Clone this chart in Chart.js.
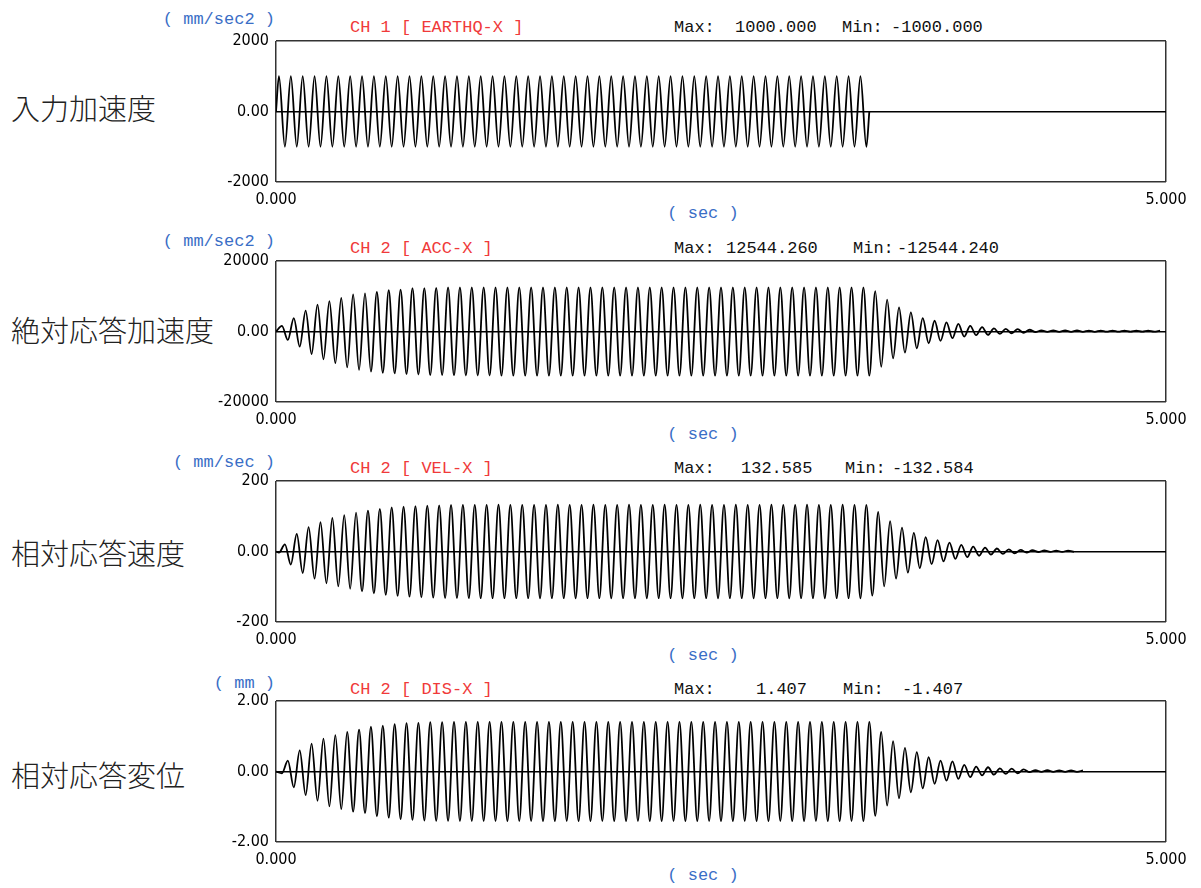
<!DOCTYPE html>
<html><head><meta charset="utf-8">
<script src="https://cdn.jsdelivr.net/npm/chart.js@4.4.1/dist/chart.umd.min.js"></script>
<style>
html,body{margin:0;padding:0;background:#fff}
body{width:1201px;height:888px;position:relative;overflow:hidden;font-family:"Liberation Mono","DejaVu Sans Mono",monospace}
.t{position:absolute;white-space:pre;line-height:1}
.jp{font-family:"Noto Sans CJK JP",sans-serif;font-size:29px;font-weight:300;color:#222;left:11px}
.unit{color:#3a6ec6;font-size:17px}
.ttl{color:#f03a3a;font-size:17px;left:350px}
.mm{color:#111;font-size:17px}
canvas{position:absolute}
</style></head><body>
<script>
// ---------------- data ----------------
const HALF_PERIOD = 1 / 30;           // half cycle of the 15 Hz waveform (sec)
const timeTickLabels = ["0.000", "5.000"];
const timeRange = [0, 5];

// CH1 EARTHQ-X : input acceleration peaks (mm/sec2), first peak at 1/60 s
const inputStart = 1 / 60;
const inputPeaks = [
  1000,-1000,1000,-1000,1000,-1000,1000,-1000,1000,-1000,
  1000,-1000,1000,-1000,1000,-1000,1000,-1000,1000,-1000,
  1000,-1000,1000,-1000,1000,-1000,1000,-1000,1000,-1000,
  1000,-1000,1000,-1000,1000,-1000,1000,-1000,1000,-1000,
  1000,-1000,1000,-1000,1000,-1000,1000,-1000,1000,-1000,
  1000,-1000,1000,-1000,1000,-1000,1000,-1000,1000,-1000,
  1000,-1000,1000,-1000,1000,-1000,1000,-1000,1000,-1000,
  1000,-1000,1000,-1000,1000,-1000,1000,-1000,1000,-1000,
  1000,-1000,1000,-1000,1000,-1000,1000,-1000,1000,-1000,
  1000,-1000,1000,-1000,1000,-1000,1000,-1000,1000,-1000
];
const inputTicks = ["-2000", "0.00", "2000"];

// CH2 ACC-X : absolute response acceleration peaks (mm/sec2), first peak at 1/30 s
const accStart = 1 / 30;
const accPeaks = [
  1600,-2400,3800,-4300,5900,-6400,7600,-7900,8600,-9000,
  9500,-10200,10500,-10900,10800,-11400,11200,-11700,11700,-11900,
  11900,-12100,12300,-12200,12300,-12400,12400,-12400,12500,-12450,
  12500,-12480,12520,-12500,12530,-12510,12520,-12520,12540,-12530,
  12530,-12520,12544,-12530,12530,-12540,12540,-12530,12540,-12544,
  12540,-12530,12544,-12540,12530,-12540,12544,-12540,12540,-12544,
  12540,-12540,12544,-12540,12540,-12544,12540,-12540,12544,-12540,
  12540,-12544,12540,-12540,12544,-12540,12540,-12544,12540,-12540,
  12544,-12540,12540,-12544,12540,-12540,12544,-12540,12540,-12544,
  12540,-12540,12544,-12540,12540,-12544,12540,-12540,12544,-12544,
  11430,-10000,9050,-7620,6860,-6000,5430,-4760,3800,-3330,
  3050,-2670,2570,-1900,2190,-1430,1620,-1050,1240,-950,
  860,-670,760,-500,670,-400,500,-150,300,-100,
  300,-100,280,-100,280,-80,260,-80,260,-60,
  250,-60,250,-50,240,-50,240,-40,230
];
const accTicks = ["-20000", "0.00", "20000"];

// CH2 VEL-X : relative response velocity peaks (mm/sec), first peak at 1/60 s
const velStart = 1 / 60;
const velPeaks = [
  -3,20,-37,50,-61,69,-77,83,-90,95,
  -99,103,-106,110,-113,116,-119,121,-123,125,
  -126,127,-128,129,-130,130,-131,131,-132,132,
  -132.3,132.4,-132.4,132.5,-132.5,132.5,-132.5,132.58,-132.5,132.5,
  -132.5,132.55,-132.5,132.5,-132.58,132.5,-132.5,132.58,-132.5,132.5,
  -132.58,132.5,-132.5,132.58,-132.5,132.5,-132.58,132.5,-132.5,132.58,
  -132.5,132.5,-132.58,132.5,-132.5,132.58,-132.5,132.5,-132.58,132.5,
  -132.5,132.58,-132.5,132.5,-132.58,132.5,-132.5,132.58,-132.5,132.5,
  -132.58,132.5,-132.5,132.58,-132.5,132.5,-132.58,132.5,-132.5,132.58,
  -132.5,132.5,-132.58,132.5,-132.5,132.58,-132.5,132.5,-132.58,132.5,
  -125,112,-99,86,-77,68,-60,53,-47,41,
  -36,32,-28,25,-21,19,-16,14,-12,11,
  -9,8.5,-7,6,-5,4.5,-3,3.5,-1.5,3,
  -1,2.5,-1,2.5,-1
];
const velTicks = ["-200", "0.00", "200"];

// CH2 DIS-X : relative response displacement peaks (mm), first peak at 1/30 s
const disStart = 1 / 30;
const disPeaks = [
  -0.05,0.31,-0.45,0.60,-0.67,0.79,-0.83,0.93,-0.99,1.03,
  -1.07,1.12,-1.14,1.19,-1.18,1.27,-1.27,1.30,-1.31,1.34,
  -1.35,1.37,-1.37,1.38,-1.39,1.40,-1.40,1.40,-1.40,1.405,
  -1.404,1.405,-1.405,1.406,-1.405,1.406,-1.406,1.406,-1.407,1.406,
  -1.406,1.407,-1.406,1.407,-1.407,1.406,-1.407,1.407,-1.406,1.407,
  -1.407,1.406,-1.407,1.407,-1.406,1.407,-1.407,1.406,-1.407,1.407,
  -1.406,1.407,-1.407,1.406,-1.407,1.407,-1.406,1.407,-1.407,1.406,
  -1.407,1.407,-1.406,1.407,-1.407,1.406,-1.407,1.407,-1.406,1.407,
  -1.407,1.406,-1.407,1.407,-1.406,1.407,-1.407,1.406,-1.407,1.407,
  -1.406,1.407,-1.407,1.406,-1.407,1.407,-1.406,1.407,-1.407,1.407,
  -1.26,1.12,-0.97,0.86,-0.76,0.67,-0.59,0.55,-0.48,0.41,
  -0.35,0.31,-0.26,0.29,-0.21,0.19,-0.16,0.14,-0.11,0.12,
  -0.09,0.09,-0.07,0.08,-0.05,0.06,-0.02,0.04,-0.01,0.04,
  -0.01,0.03,-0.01,0.03,-0.01,0.03
];
const disTicks = ["-2.00", "0.00", "2.00"];

// ---------------- layout / text ----------------
const panelTops = [41, 261, 481, 701];
const PLOT_LEFT = 276, PLOT_RIGHT = 1166, PLOT_H = 141;
const YW = 62, PADT = 18, PADR = 32, XH = 36;

const texts = [
  // panel 1
  ["jp", "入力加速度", 11, 93],
  ["unit r", "( mm/sec2 )", 275, 11],
  ["ttl", "CH 1 [ EARTHQ-X ]", 350, 19],
  ["mm", "Max:", 674, 19], ["mm", "1000.000", 735, 19],
  ["mm", "Min:", 842, 19], ["mm", "-1000.000", 891, 19],
  ["unit c", "( sec )", 703, 205],
  // panel 2
  ["jp", "絶対応答加速度", 11, 315],
  ["unit r", "( mm/sec2 )", 275, 233],
  ["ttl", "CH 2 [ ACC-X ]", 350, 240],
  ["mm", "Max:", 674, 240], ["mm", "12544.260", 726, 240],
  ["mm", "Min:", 853, 240], ["mm", "-12544.240", 897, 240],
  ["unit c", "( sec )", 703, 426],
  // panel 3
  ["jp", "相対応答速度", 11, 538],
  ["unit r", "( mm/sec )", 275, 454],
  ["ttl", "CH 2 [ VEL-X ]", 350, 460],
  ["mm", "Max:", 674, 460], ["mm", "132.585", 741, 460],
  ["mm", "Min:", 845, 460], ["mm", "-132.584", 892, 460],
  ["unit c", "( sec )", 703, 647],
  // panel 4
  ["jp", "相対応答変位", 11, 760],
  ["unit r", "( mm )", 275, 675],
  ["ttl", "CH 2 [ DIS-X ]", 350, 681],
  ["mm", "Max:", 674, 681], ["mm", "1.407", 756, 681],
  ["mm", "Min:", 843, 681], ["mm", "-1.407", 902, 681],
  ["unit c", "( sec )", 703, 867]
];
for (const [cls, str, x, y] of texts) {
  const d = document.createElement("div");
  const parts = cls.split(" ");
  d.className = "t " + parts[0];
  d.textContent = str;
  d.style.top = y + "px";
  if (parts[1] === "r") { d.style.right = (1201 - x) + "px"; }
  else if (parts[1] === "c") { d.style.left = x + "px"; d.style.transform = "translateX(-50%)"; }
  else { d.style.left = x + "px"; }
  document.body.appendChild(d);
}

function buildPoints(start, peaks, endZero) {
  const pts = [{ x: 0, y: 0 }];
  peaks.forEach((v, i) => pts.push({ x: start + i * HALF_PERIOD, y: v }));
  if (endZero) pts.push({ x: start + (peaks.length - 0.5) * HALF_PERIOD, y: 0 });
  return pts;
}

const tickFont = { family: "'DejaVu Sans Condensed','DejaVu Sans',sans-serif", size: 16 };

function makePanel(idx, points, yMax, yLabels) {
  const c = document.createElement("canvas");
  const w = PLOT_RIGHT - (PLOT_LEFT - YW) + PADR;
  const h = PADT + PLOT_H + XH;
  c.width = w; c.height = h;
  c.style.left = (PLOT_LEFT - YW) + "px";
  c.style.top = (panelTops[idx] - PADT) + "px";
  c.style.width = w + "px"; c.style.height = h + "px";
  document.body.appendChild(c);
  const yVals = [-yMax, 0, yMax];
  new Chart(c, {
    type: "line",
    data: { datasets: [{
      data: points, borderColor: "#000", borderWidth: 1.8,
      pointRadius: 0, cubicInterpolationMode: "monotone", fill: false
    }] },
    options: {
      responsive: false, animation: false, devicePixelRatio: 1,
      events: [],
      layout: { autoPadding: false, padding: { top: PADT, right: PADR, left: 0, bottom: 0 } },
      plugins: { legend: { display: false }, tooltip: { enabled: false } },
      scales: {
        x: {
          type: "linear", min: timeRange[0], max: timeRange[1],
          afterBuildTicks: s => { s.ticks = timeRange.map(v => ({ value: v })); },
          afterFit: s => { s.height = XH; },
          ticks: { callback: (v, i) => timeTickLabels[i], font: tickFont, color: "#000",
                   padding: 8, maxRotation: 0, autoSkip: false },
          grid: { color: "#333", lineWidth: 1.5, drawTicks: false },
          border: { display: false }
        },
        y: {
          type: "linear", min: -yMax, max: yMax,
          afterBuildTicks: s => { s.ticks = yVals.map(v => ({ value: v })); },
          afterFit: s => { s.width = YW; },
          ticks: { callback: (v, i) => yLabels[i], font: tickFont, color: "#000",
                   padding: 7, autoSkip: false },
          grid: { color: ctx => ctx.tick && ctx.tick.value === 0 ? "#000" : "#333",
                  lineWidth: 1.5, drawTicks: false },
          border: { display: false }
        }
      }
    }
  });
}

makePanel(0, buildPoints(inputStart, inputPeaks, true), 2000, inputTicks);
makePanel(1, buildPoints(accStart, accPeaks, false), 20000, accTicks);
makePanel(2, buildPoints(velStart, velPeaks, false), 200, velTicks);
makePanel(3, buildPoints(disStart, disPeaks, false), 2, disTicks);
</script>
</body></html>
